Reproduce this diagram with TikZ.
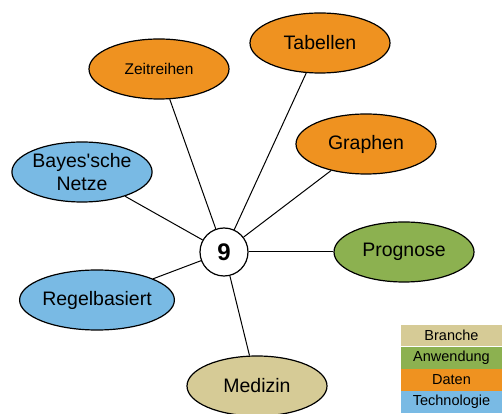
\documentclass[tikz,border=0pt]{standalone}
\usepackage{fontspec}
\setmainfont{Liberation Sans}
\usetikzlibrary{shapes.geometric}
\definecolor{branche}{RGB}{214,203,150}
\definecolor{anwendung}{RGB}{140,177,80}
\definecolor{daten}{RGB}{239,146,32}
\definecolor{technologie}{RGB}{121,186,228}
\tikzset{
  thema/.style = {
    ellipse, draw=black, line width=1.2pt,
    minimum width=140pt, minimum height=60pt, inner sep=0pt,
    align=center, font=\fontsize{19.5}{23}\selectfont
  },
  zahl/.style = {
    circle, draw=black, line width=1.2pt, fill=white,
    minimum size=48pt, inner sep=0pt,
    font=\fontsize{24}{26}\selectfont\bfseries
  },
  speiche/.style = {line width=1pt},
  legende/.style = {
    rectangle, minimum width=101pt, minimum height=21.75pt,
    inner sep=0pt, font=\fontsize{14.5}{16}\selectfont
  }
}

\begin{document}
\begin{tikzpicture}[x=1pt,y=-1pt]
  \useasboundingbox (0,0) rectangle (504,414);
  \pgfmathsetmacro{\legx}{451.5};
  \node[zahl] (neun) at (224,252) {9};
  \node[thema,fill=daten,font=\fontsize{15.5}{18}\selectfont] (zeitreihen) at (159,69) {Zeitreihen};
  \node[thema,fill=daten] (tabellen) at (320,43) {Tabellen};
  \node[thema,fill=daten] (graphen) at (366,144) {Graphen};
  \node[thema,fill=anwendung] (prognose) at (404,252) {Prognose};
  \node[thema,fill=branche] (medizin) at (257,386) {Medizin};
  \node[thema,fill=technologie] (regel) at (97,300) {Regelbasiert};
  \node[thema,fill=technologie] (bayes) at (82,172) {Bayes\textquotesingle sche\\Netze};
  \foreach \ziel in {zeitreihen,tabellen,graphen,prognose,medizin,regel,bayes}
    \draw[speiche] (neun) -- (\ziel);
  \node[legende,fill=branche] (legbranche) at (\legx,335.5) {Branche};
  \node[legende,fill=anwendung,anchor=north] (leganwendung) at (legbranche.south) {Anwendung};
  \node[legende,fill=daten,anchor=north] (legdaten) at (leganwendung.south) {Daten};
  \node[legende,fill=technologie,anchor=north] (legtechnologie) at (legdaten.south) {Technologie};
\end{tikzpicture}
\end{document}
